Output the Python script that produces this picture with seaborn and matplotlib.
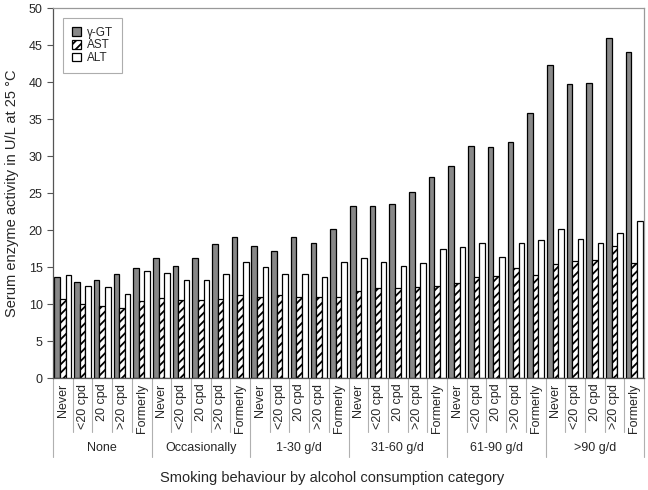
import matplotlib.pyplot as plt
import matplotlib.transforms as mtransforms
import pandas as pd
import seaborn as sns

alcohol = ["None", "Occasionally", "1-30 g/d", "31-60 g/d", "61-90 g/d", ">90 g/d"]
smoking = ["Never", "<20 cpd", "20 cpd", ">20 cpd", "Formerly"]
enzymes = ["γ-GT", "AST", "ALT"]

# values per alcohol group, 5 smoking categories each
ggt = [13.7, 13.0, 13.2, 14.1, 14.8,
       16.2, 15.2, 16.2, 18.1, 19.1,
       17.8, 17.1, 19.1, 18.3, 20.1,
       23.2, 23.2, 23.5, 25.1, 27.1,
       28.7, 31.4, 31.2, 31.9, 35.8,
       42.3, 39.7, 39.9, 45.9, 44.0]
ast = [10.7, 10.0, 9.7, 9.4, 10.4,
       10.8, 10.6, 10.5, 10.7, 11.2,
       10.9, 11.2, 11.0, 11.0, 11.0,
       11.8, 12.1, 12.2, 12.3, 12.4,
       12.8, 13.7, 13.8, 14.8, 13.9,
       15.4, 15.8, 15.9, 17.8, 15.5]
alt = [13.9, 12.5, 12.3, 11.4, 14.5,
       14.2, 13.3, 13.3, 14.1, 15.7,
       15.0, 14.0, 14.1, 13.7, 15.7,
       16.2, 15.7, 15.1, 15.6, 17.5,
       17.7, 18.2, 16.4, 18.2, 18.6,
       20.2, 18.8, 18.2, 19.6, 21.2]

slots = [f"{a} | {s}" for a in alcohol for s in smoking]
df = pd.DataFrame({
    "slot": slots * 3,
    "enzyme": [e for e in enzymes for _ in slots],
    "value": ggt + ast + alt,
})

sns.set_style("white")
plt.rcParams["font.family"] = ["Liberation Sans", "DejaVu Sans"]
plt.rcParams["hatch.linewidth"] = 1.3

fig = plt.figure(figsize=(6.48, 4.9), dpi=100)
ax = fig.add_axes([53 / 648, 1 - 378 / 490, 591 / 648, 370 / 490])

sns.barplot(data=df, x="slot", y="value", hue="enzyme", order=slots, hue_order=enzymes,
            palette={"γ-GT": "#888888", "AST": "white", "ALT": "white"},
            edgecolor="black", linewidth=0.9, width=0.85, errorbar=None,
            legend=False, ax=ax)

for p in ax.containers[1].patches:
    p.set_hatch("////")

ax.set_ylim(0, 50)
ax.set_xlim(-0.5, len(slots) - 0.5)
ax.set_yticks(range(0, 51, 5))
ax.tick_params(axis="y", labelsize=9, length=4, direction="out", left=True, color="#555555")
ax.set_xticks(range(len(slots)))
ax.set_xticklabels(smoking * len(alcohol), rotation=90, fontsize=9)
ax.tick_params(axis="x", length=0, pad=4)
ax.set_xlabel("")
ax.set_ylabel("Serum enzyme activity in U/L at 25 °C", fontsize=10.5)
ax.yaxis.set_label_coords(-0.058, 0.5)

for side in ["top", "right"]:
    ax.spines[side].set_color("#999999")
ax.spines["left"].set_color("#555555")
ax.spines["bottom"].set_color("#555555")
for s in ax.spines.values():
    s.set_linewidth(0.9)

# category separators and group labels below the axis
trans = mtransforms.blended_transform_factory(ax.transData, ax.transAxes)
for i in range(len(slots) + 1):
    long = i % len(smoking) == 0
    ax.plot([i - 0.5, i - 0.5], [0, -0.2135 if long else -0.146], transform=trans,
            color="#b0b0b0", lw=0.8, clip_on=False)
for g, name in enumerate(alcohol):
    ax.text(g * len(smoking) + 2, -0.189, name, transform=trans, ha="center", va="center",
            fontsize=9)

fig.text(0.512, 1 - 478 / 490, "Smoking behaviour by alcohol consumption category",
         ha="center", va="center", fontsize=10.5)

leg = ax.legend(ax.containers, enzymes, loc="upper left", bbox_to_anchor=(0.017, 0.973),
                borderaxespad=0, fontsize=8.5, frameon=True, fancybox=False,
                handlelength=0.75, handleheight=0.75, handletextpad=0.5,
                labelspacing=0.05, borderpad=0.75)
leg.get_frame().set_edgecolor("#999999")
leg.get_frame().set_linewidth(0.8)

fig.savefig("out.png", dpi=100)
